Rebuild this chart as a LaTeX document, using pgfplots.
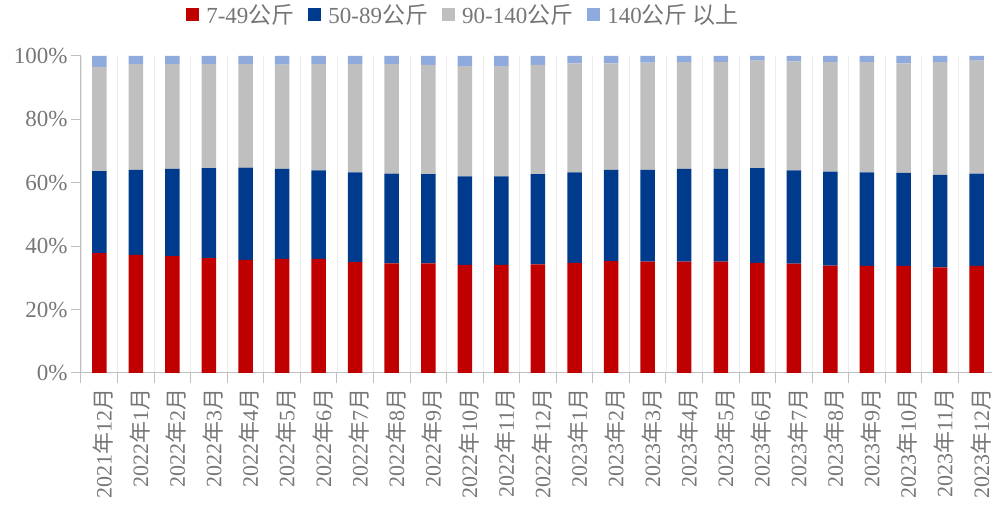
\documentclass[border=0pt]{standalone}
\usepackage{fontspec}
\setmainfont{Liberation Serif}
\newfontfamily\tnr{Liberation Serif}
\newfontfamily\cjk{Noto Sans CJK SC}
\usepackage{pgfplots}
\pgfplotsset{compat=1.18}
\usepackage{pgfplotstable}

\definecolor{cRed}{HTML}{C00000}
\definecolor{cBlue}{HTML}{003A8C}
\definecolor{cGray}{HTML}{BFBFBF}
\definecolor{cLight}{HTML}{8FAADC}
\definecolor{txt}{HTML}{767676}
\definecolor{axl}{HTML}{BFBFBF}

\newcommand\ym[2]{#1{\cjk 年}#2{\cjk 月}}

\pgfplotstableread{
x a b c d
0 37.8 25.9 32.9 3.4
1 37.3 26.8 33.3 2.6
2 36.9 27.5 33.1 2.5
3 36.2 28.4 32.9 2.5
4 35.7 29.1 32.7 2.5
5 36.0 28.4 32.9 2.7
6 36.0 27.9 33.6 2.5
7 35.0 28.3 34.2 2.5
8 34.6 28.3 34.6 2.5
9 34.6 28.1 34.5 2.8
10 34.1 27.9 34.8 3.2
11 34.1 27.9 34.8 3.2
12 34.3 28.4 34.5 2.8
13 34.7 28.6 34.4 2.3
14 35.3 28.8 33.6 2.3
15 35.1 29.0 33.8 2.1
16 35.1 29.3 33.7 1.9
17 35.1 29.3 33.7 1.9
18 34.7 29.9 33.9 1.5
19 34.5 29.4 34.4 1.7
20 33.9 29.6 34.6 1.9
21 33.8 29.5 34.8 1.9
22 33.8 29.3 34.6 2.3
23 33.3 29.2 35.6 1.9
24 33.8 29.1 35.6 1.5
}\data

\begin{document}
\begin{tikzpicture}[font=\tnr]
\useasboundingbox (-81pt,-140pt) rectangle (911pt,373pt);
\begin{axis}[
  at={(0,0)}, anchor=south west,
  scale only axis, width=911pt, height=317pt,
  ybar stacked, bar width=14.5pt,
  xmin=-0.5, xmax=24.42, ymin=0, ymax=100,
  axis x line*=bottom, axis y line*=left,
  axis line style={draw=axl, line width=1pt},
  xtick={0,...,24},
  xticklabels={\ym{2021}{12},\ym{2022}{1},\ym{2022}{2},\ym{2022}{3},\ym{2022}{4},\ym{2022}{5},\ym{2022}{6},\ym{2022}{7},\ym{2022}{8},\ym{2022}{9},\ym{2022}{10},\ym{2022}{11},\ym{2022}{12},\ym{2023}{1},\ym{2023}{2},\ym{2023}{3},\ym{2023}{4},\ym{2023}{5},\ym{2023}{6},\ym{2023}{7},\ym{2023}{8},\ym{2023}{9},\ym{2023}{10},\ym{2023}{11},\ym{2023}{12}},
  x tick label style={rotate=90, anchor=east, font=\tnr\fontsize{22}{22}\selectfont, text=txt, xshift=-2pt, yshift=-4pt},
  major x tick style={draw=none},
  minor xtick={-0.5,0.5,...,24.5},
  minor x tick style={draw=axl, line width=1pt},
  xminorgrids, minor grid style={draw=black!8, line width=0.8pt},
  ytick={0,20,...,100},
  yticklabel={\pgfmathprintnumber{\tick}\%},
  y tick label style={font=\tnr\fontsize{23}{23}\selectfont, text=txt},
  /pgf/number format/assume math mode=true,
  major y tick style={draw=axl, line width=1pt},
  tick align=outside, major tick length=10pt, minor tick length=10pt,
  legend columns=4,
  legend style={at={(0.42,1)}, anchor=center, yshift=41pt, draw=none, fill=none,
    font=\tnr\fontsize{23}{23}\selectfont, text=txt,
    /tikz/every odd column/.append style={column sep=5pt},
    /tikz/every even column/.append style={column sep=12pt}},
  legend image code/.code={\fill[#1] (0pt,-6.5pt) rectangle (13pt,6.5pt);},
]
\addplot[fill=cRed, draw=none] table[x=x,y=a]{\data};
\addlegendentry{7-49{\cjk 公斤}}
\addplot[fill=cBlue, draw=none] table[x=x,y=b]{\data};
\addlegendentry{50-89{\cjk 公斤}}
\addplot[fill=cGray, draw=none] table[x=x,y=c]{\data};
\addlegendentry{90-140{\cjk 公斤}}
\addplot[fill=cLight, draw=none] table[x=x,y=d]{\data};
\addlegendentry{140{\cjk 公斤 以上}}
\end{axis}
\end{tikzpicture}
\end{document}
